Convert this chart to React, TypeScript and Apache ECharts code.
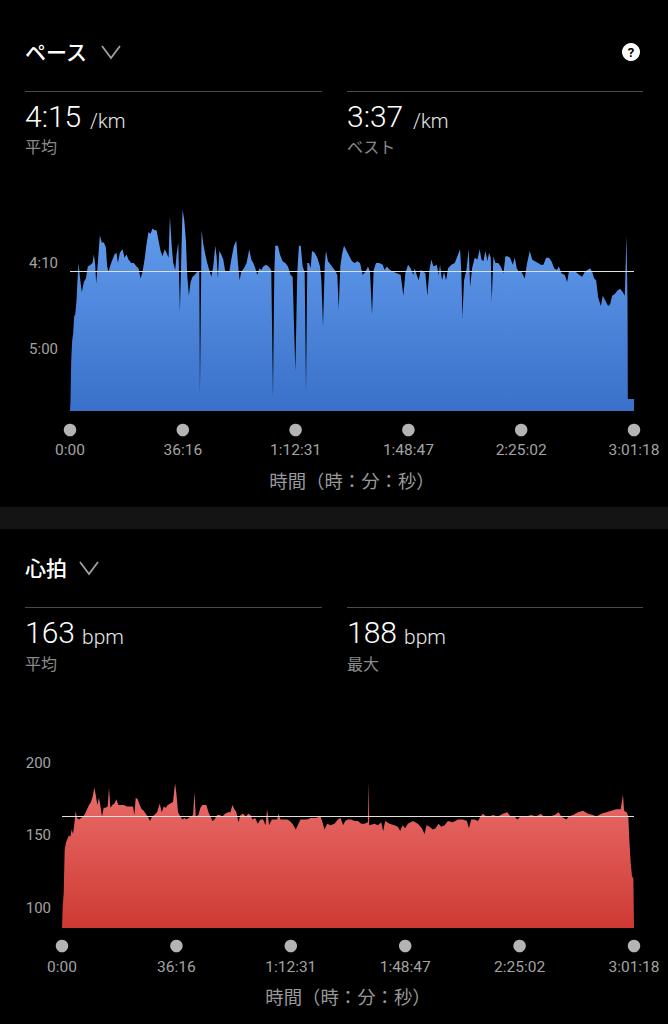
import React, { useEffect, useRef } from "react";
import * as echarts from "echarts";

const totalSeconds = 10878;
const timeTicks = [0, 2176, 4351, 6527, 8702, 10878];
const paceTicks = [250, 300];
const heartTicks = [100, 150, 200];
const paceAverage = 255;
const heartAverage = 163;

const paceTimes = [0,10,23,42,61,80,100,125,145,164,190,228,267,306,344,396,434,460,486,505,537,576,614,653,692,717,743,782,820,859,897,923,962,1013,1052,1090,1129,1180,1232,1283,1322,1360,1399,1438,1476,1515,1553,1592,1631,1669,1708,1747,1785,1824,1862,1901,1927,1959,1991,2030,2056,2088,2120,2152,2171,2203,2236,2261,2293,2325,2364,2403,2454,2493,2506,2525,2538,2570,2609,2647,2686,2725,2763,2802,2827,2853,2879,2918,2956,2995,3033,3072,3111,3162,3207,3239,3271,3303,3355,3406,3458,3496,3535,3574,3612,3651,3689,3728,3779,3831,3882,3915,3940,3960,4011,4049,4101,4152,4204,4255,4294,4346,4384,4416,4449,4487,4526,4552,4577,4609,4642,4667,4719,4770,4822,4848,4880,4912,4938,4976,5028,5105,5156,5182,5214,5246,5285,5336,5388,5439,5491,5542,5594,5645,5697,5748,5787,5825,5857,5902,5967,6031,6069,6108,6172,6237,6301,6378,6430,6468,6520,6571,6622,6648,6687,6726,6764,6816,6854,6893,6932,6970,7009,7073,7112,7137,7176,7214,7253,7292,7356,7420,7472,7523,7549,7568,7600,7646,7691,7717,7755,7806,7858,7903,7935,7974,8012,8051,8083,8115,8134,8167,8205,8257,8308,8360,8398,8437,8488,8540,8578,8617,8656,8707,8771,8810,8868,8913,8964,9029,9080,9132,9183,9235,9286,9338,9389,9428,9479,9544,9589,9621,9685,9749,9827,9878,9930,9981,10032,10071,10110,10148,10187,10238,10277,10328,10380,10418,10457,10508,10560,10611,10663,10701,10733,10753,10759,10878];
const paceValues = [336,330,307,295,291,281,280,272,260,250,258,267,261,259,252,251,250,245,251,262,250,234,238,238,241,252,255,251,248,245,244,250,244,242,247,245,248,250,250,252,253,259,255,248,239,232,233,230,231,231,237,243,246,242,244,247,223,239,250,254,245,238,278,240,219,225,237,257,269,261,258,257,255,255,326,272,231,239,245,250,254,258,252,240,246,259,243,245,248,255,255,255,248,240,237,250,260,255,253,250,242,248,250,253,257,253,254,252,251,252,254,328,256,240,240,245,249,250,252,257,258,313,255,240,240,252,255,325,250,250,253,243,244,247,252,260,287,252,243,249,251,254,257,277,252,245,240,243,246,249,250,249,250,257,255,252,255,280,254,250,250,251,254,252,254,255,256,257,269,256,251,253,257,253,257,260,254,255,256,269,254,248,252,251,257,251,260,255,260,253,251,250,246,242,256,282,260,254,242,264,253,247,248,242,248,249,243,249,244,247,272,246,250,250,252,256,246,246,247,251,247,253,255,255,259,251,243,248,249,250,251,251,247,247,249,253,254,252,256,257,261,255,255,255,257,258,255,254,253,255,259,260,270,275,269,272,275,274,269,268,266,265,267,269,234,272,329,329];

const heartTimes = [0,6,13,32,51,76,108,133,159,184,209,235,260,285,323,362,400,438,476,514,552,584,615,641,672,704,736,761,793,831,869,894,920,958,996,1034,1072,1123,1173,1237,1300,1351,1376,1402,1440,1478,1516,1554,1592,1630,1675,1713,1757,1808,1859,1897,1935,1973,2011,2062,2112,2150,2176,2207,2252,2290,2328,2366,2404,2455,2493,2518,2544,2594,2632,2670,2708,2746,2785,2823,2861,2899,2950,3000,3051,3102,3153,3203,3241,3279,3317,3355,3394,3444,3495,3546,3584,3622,3673,3723,3774,3825,3869,3901,3939,3990,4040,4091,4117,4155,4218,4282,4332,4383,4446,4484,4535,4599,4662,4726,4821,4916,4948,4992,5043,5106,5182,5246,5297,5347,5385,5436,5499,5563,5626,5690,5753,5817,5830,5836,5842,5943,6007,6070,6108,6146,6229,6324,6388,6432,6476,6527,6578,6673,6768,6844,6895,6933,6990,7053,7104,7161,7212,7275,7339,7434,7529,7624,7700,7738,7783,7846,7910,7960,8005,8068,8132,8195,8290,8385,8468,8531,8607,8658,8721,8829,8924,9019,9102,9165,9273,9368,9445,9495,9590,9635,9717,9813,9908,10003,10098,10161,10256,10352,10447,10542,10625,10669,10688,10739,10770,10789,10815,10840,10866,10878];
const heartValues = [86,86,101,110,140,145,148,150,149,154,151,158,167,162,161,162,163,165,168,171,173,177,183,178,171,176,169,163,169,169,170,183,169,171,172,175,171,171,171,170,170,170,164,176,175,171,168,167,165,163,160,163,164,166,172,166,170,169,171,172,173,186,179,166,163,161,162,161,162,163,164,180,163,164,169,171,171,171,166,163,160,161,164,164,163,165,166,166,171,168,166,159,164,165,163,165,164,161,162,158,161,161,157,168,157,161,161,161,165,161,161,161,160,158,154,157,161,161,161,162,162,163,160,154,158,157,158,161,162,157,160,161,161,160,160,158,158,159,159,187,157,158,157,159,153,160,158,157,156,153,157,155,158,160,158,155,151,157,156,154,155,158,156,157,160,159,161,161,160,155,161,161,160,163,165,163,163,164,163,165,166,163,163,161,163,163,164,163,165,163,163,164,166,163,161,163,164,166,167,165,164,163,165,166,167,168,168,178,167,166,163,147,131,122,120,120];

const xLabelFormatter = (s: number) => {
  const h = Math.floor(s / 3600);
  const m = Math.floor((s % 3600) / 60);
  const sec = s % 60;
  const ss = String(sec).padStart(2, "0");
  return h > 0 ? `${h}:${String(m).padStart(2, "0")}:${ss}` : `${m}:${ss}`;
};
const paceLabelFormatter = (v: number) => `${Math.floor(v / 60)}:${String(v % 60).padStart(2, "0")}`;

const zip = (a: number[], b: number[]) => a.map((t, i) => [t, b[i]]);
const FONT = "Roboto, 'Noto Sans CJK JP', sans-serif";
const JP = "'Noto Sans CJK JP', sans-serif";

const txt = (text: string, x: number, y: number, font: string, fill: string) => ({
  type: "text", x, y, silent: true,
  style: { text, font, fill, textVerticalAlign: "middle", textAlign: "left" },
});
const rule = (x1: number, x2: number, y: number) => ({
  type: "line", silent: true, shape: { x1, y1: y, x2, y2: y }, style: { stroke: "#4a4a4a", lineWidth: 1 },
});
const chevron = (x: number, y: number) => ({
  type: "polyline", silent: true,
  shape: { points: [[x, y], [x + 9, y + 12], [x + 18, y]] },
  style: { stroke: "#a0a0a0", lineWidth: 1.8, fill: "none" },
});

const xAxisHidden = (gridIndex: number) => ({
  type: "value", gridIndex, min: 0, max: totalSeconds,
  axisLine: { show: false }, axisTick: { show: false }, splitLine: { show: false }, axisLabel: { show: false },
});
const xAxisDots = (gridIndex: number, margin: number) => ({
  type: "value", gridIndex, min: 0, max: totalSeconds,
  axisLine: { show: false }, axisTick: { show: false }, splitLine: { show: false },
  axisLabel: {
    customValues: timeTicks, formatter: xLabelFormatter, color: "#a3a3a3",
    fontFamily: FONT, fontSize: 15.5, margin,
  },
  name: "時間（時：分：秒）", nameLocation: "middle", nameGap: 31,
  nameTextStyle: { color: "#999999", fontFamily: JP, fontSize: 18.4 },
});
const yAxisDots = (gridIndex: number) => ({
  type: "value", gridIndex, min: -1, max: 1, show: false,
});
const areaSeries = (xi: number, data: number[][], top: string, bottom: string, avg: number, origin: string) => ({
  type: "line", xAxisIndex: xi, yAxisIndex: xi, data, symbol: "none", showSymbol: false,
  lineStyle: { width: 0 }, silent: true,
  areaStyle: {
    origin, opacity: 1,
    color: new echarts.graphic.LinearGradient(0, 0, 0, 1, [
      { offset: 0, color: top }, { offset: 1, color: bottom },
    ]),
  },
  markLine: {
    silent: true, symbol: "none", label: { show: false }, animation: false,
    lineStyle: { color: "#e0e0e0", width: 1, type: "solid" },
    data: [{ yAxis: avg }],
  },
});
const dotSeries = (xi: number) => ({
  type: "scatter", xAxisIndex: xi, yAxisIndex: xi, clip: false, silent: true,
  symbolSize: 12.5, itemStyle: { color: "#b4b4b4", opacity: 1 },
  data: timeTicks.map((t) => [t, 0]),
});

export default function App() {
  const ref = useRef<HTMLDivElement>(null);
  useEffect(() => {
    const chart = echarts.init(ref.current!, null, { renderer: "svg" });
    chart.setOption({
      animation: false,
      backgroundColor: "#000000",
      grid: [
        { left: 70, width: 564, top: 177, height: 234 },
        { left: 70, width: 564, top: 420, height: 20 },
        { left: 62, width: 572, top: 763, height: 165 },
        { left: 62, width: 572, top: 936, height: 20 },
      ],
      xAxis: [xAxisHidden(0), xAxisDots(1, 2), xAxisHidden(2), xAxisDots(3, 3)],
      yAxis: [
        {
          type: "value", gridIndex: 0, inverse: true, min: 200, max: 336,
          axisLine: { show: false }, axisTick: { show: false }, splitLine: { show: false },
          axisLabel: {
            customValues: paceTicks, formatter: paceLabelFormatter, color: "#a3a3a3",
            fontFamily: FONT, fontSize: 15, margin: 12,
          },
        },
        yAxisDots(1),
        {
          type: "value", gridIndex: 2, min: 86, max: 200,
          axisLine: { show: false }, axisTick: { show: false }, splitLine: { show: false },
          axisLabel: {
            customValues: heartTicks, color: "#a3a3a3",
            fontFamily: FONT, fontSize: 15, margin: 11,
          },
        },
        yAxisDots(3),
      ],
      series: [
        areaSeries(0, zip(paceTimes, paceValues), "#649FEF", "#3A70C9", paceAverage, "end"),
        dotSeries(1),
        areaSeries(2, zip(heartTimes, heartValues), "#EA6E6C", "#CE3A33", heartAverage, "start"),
        dotSeries(3),
      ],
      graphic: [
        { type: "rect", silent: true, shape: { x: 0, y: 507, width: 668, height: 22 }, style: { fill: "#141414" } },
        txt("ペース", 25, 51, `500 21px ${JP}`, "#ffffff"),
        chevron(102, 46),
        { type: "circle", silent: true, shape: { cx: 631, cy: 52, r: 9 }, style: { fill: "#ffffff" } },
        { type: "text", silent: true, x: 631, y: 52, style: { text: "?", font: `700 13px ${FONT}`, fill: "#000000", textAlign: "center", textVerticalAlign: "middle" } },
        rule(25, 322, 91.5),
        rule(347, 643, 91.5),
        txt("4:15", 25, 116, `300 30px ${FONT}`, "#ffffff"),
        txt("/km", 90, 121, `300 20px ${FONT}`, "#e8e8e8"),
        txt("平均", 25, 146, `400 16px ${JP}`, "#8a8a8a"),
        txt("3:37", 347, 116, `300 30px ${FONT}`, "#ffffff"),
        txt("/km", 413, 121, `300 20px ${FONT}`, "#e8e8e8"),
        txt("ベスト", 347, 146, `400 16px ${JP}`, "#8a8a8a"),
        txt("心拍", 25, 567, `500 21px ${JP}`, "#ffffff"),
        chevron(80, 562),
        rule(25, 322, 607.5),
        rule(347, 643, 607.5),
        txt("163", 25, 632, `300 30px ${FONT}`, "#ffffff"),
        txt("bpm", 82, 637, `300 21px ${FONT}`, "#e8e8e8"),
        txt("平均", 25, 663, `400 16px ${JP}`, "#8a8a8a"),
        txt("188", 347, 632, `300 30px ${FONT}`, "#ffffff"),
        txt("bpm", 404, 637, `300 21px ${FONT}`, "#e8e8e8"),
        txt("最大", 347, 663, `400 16px ${JP}`, "#8a8a8a"),
      ],
    });
    return () => chart.dispose();
  }, []);
  return <div ref={ref} style={{ position: "absolute", left: 0, top: 0, width: 668, height: 1024, background: "#000" }} />;
}
